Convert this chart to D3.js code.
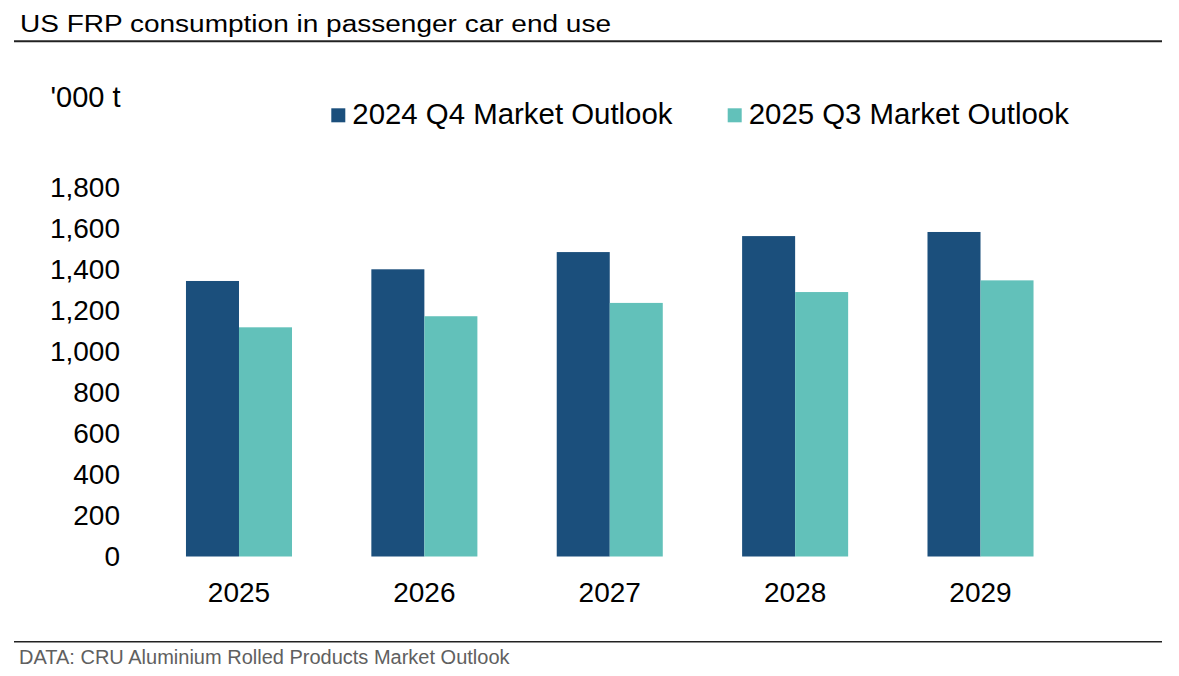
<!DOCTYPE html>
<html>
<head>
<meta charset="utf-8">
<script src="https://cdn.jsdelivr.net/npm/d3@7"></script>
<style>
  body { margin: 0; background: #fff; }
  text { font-family: Arial, "Liberation Sans", sans-serif; }
</style>
</head>
<body>
<div id="container"></div>
<script>
/* DATA */
const years = ["2025", "2026", "2027", "2028", "2029"];
const seriesNames = ["2024 Q4 Market Outlook", "2025 Q3 Market Outlook"];
const q4_2024 = [1344, 1401, 1485, 1563, 1583];
const q3_2025 = [1118, 1172, 1237, 1290, 1347];
const yTicks = [0, 200, 400, 600, 800, 1000, 1200, 1400, 1600, 1800];
const colors = ["#1b4f7c", "#62c1ba"];

/* CONSTANTS */
const width = 1179,
  height = 676;

const svg = d3.select("#container")
  .append("svg")
  .attr("width", width)
  .attr("height", height);

// scales
const x = d3.scaleBand()
  .domain(years)
  .range([146.3, 1073.2])
  .paddingInner(0.428)
  .paddingOuter(0.214);

const xSub = d3.scaleBand()
  .domain(seriesNames)
  .range([0, x.bandwidth()]);

const y = d3.scaleLinear()
  .domain([0, 1800])
  .range([556.5, 187.5]);

const rows = years.map((yr, i) => ({ year: yr, values: [q4_2024[i], q3_2025[i]] }));

// title + rules
svg.append("text")
  .attr("x", 20)
  .attr("y", 31.5)
  .attr("textLength", 591)
  .attr("lengthAdjust", "spacingAndGlyphs")
  .style("font-size", "23.5px")
  .style("fill", "#000")
  .text("US FRP consumption in passenger car end use");

svg.append("line")
  .attr("x1", 14).attr("x2", 1162)
  .attr("y1", 41.3).attr("y2", 41.3)
  .attr("stroke", "#222").attr("stroke-width", 2);

svg.append("line")
  .attr("x1", 14).attr("x2", 1162)
  .attr("y1", 641.7).attr("y2", 641.7)
  .attr("stroke", "#222").attr("stroke-width", 1.5);

svg.append("text")
  .attr("x", 19)
  .attr("y", 664)
  .style("font-size", "20px")
  .style("fill", "#606060")
  .text("DATA: CRU Aluminium Rolled Products Market Outlook");

// unit label
svg.append("text")
  .attr("x", 50.5)
  .attr("y", 106.5)
  .style("font-size", "29px")
  .text("'000 t");

// legend
const legendX = [331.3, 727.7];
const legend = svg.selectAll("g.legend")
  .data(seriesNames)
  .join("g")
  .attr("class", "legend")
  .attr("transform", (d, i) => `translate(${legendX[i]},0)`);

legend.append("rect")
  .attr("x", 0).attr("y", 108.3)
  .attr("width", 14).attr("height", 14)
  .attr("fill", (d, i) => colors[i]);

legend.append("text")
  .attr("x", 21).attr("y", 124.3)
  .style("font-size", "29.4px")
  .text(d => d);

// y axis
const yAxis = d3.axisLeft(y)
  .tickValues(yTicks)
  .tickSize(0)
  .tickPadding(0)
  .tickFormat(d3.format(","));

svg.append("g")
  .attr("transform", "translate(120,0)")
  .call(yAxis)
  .call(g => g.select(".domain").remove())
  .call(g => g.selectAll("text")
    .style("font-size", "28px")
    .style("font-family", "Arial, 'Liberation Sans', sans-serif")
    .attr("fill", "#000"));

// x axis
const xAxis = d3.axisBottom(x).tickSize(0).tickPadding(0);
svg.append("g")
  .attr("transform", "translate(0,556.5)")
  .call(xAxis)
  .call(g => g.select(".domain").remove())
  .call(g => g.selectAll("text")
    .attr("dy", null)
    .attr("y", 45.2)
    .style("font-size", "28px")
    .style("font-family", "Arial, 'Liberation Sans', sans-serif")
    .attr("fill", "#000"));

// bars
const groups = svg.selectAll("g.year")
  .data(rows)
  .join("g")
  .attr("class", "year")
  .attr("transform", d => `translate(${x(d.year)},0)`);

groups.selectAll("rect")
  .data(d => d.values.map((v, i) => ({ key: seriesNames[i], value: v, i })))
  .join("rect")
  .attr("x", d => xSub(d.key))
  .attr("width", xSub.bandwidth())
  .attr("y", d => y(d.value))
  .attr("height", d => y(0) - y(d.value))
  .attr("fill", d => colors[d.i]);
</script>
</body>
</html>
